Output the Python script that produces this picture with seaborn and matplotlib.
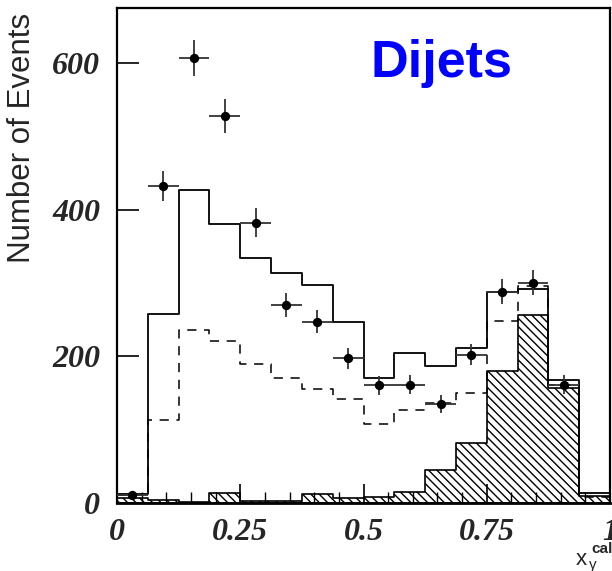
import numpy as np
import pandas as pd
import matplotlib
matplotlib.use("Agg")
import matplotlib.pyplot as plt
import seaborn as sns

# ---- data ----
bin_edges = [0.0, 0.0625, 0.125, 0.1875, 0.25, 0.3125, 0.375, 0.4375, 0.5,
             0.5625, 0.625, 0.6875, 0.75, 0.8125, 0.875, 0.9375, 1.0]
bin_centers = [0.03125, 0.09375, 0.15625, 0.21875, 0.28125, 0.34375, 0.40625,
               0.46875, 0.53125, 0.59375, 0.65625, 0.71875, 0.78125, 0.84375,
               0.90625, 0.96875]
mc_solid = [12, 258, 427, 380, 334, 314, 297, 246, 170, 204, 187, 211, 288, 291, 167, 13]
mc_dashed = [10, 113, 235, 220, 189, 170, 155, 141, 108, 126, 136, 149, 248, 295, 160, 8]
mc_hatched = [6, 4, 1, 13, 2, 3, 12, 7, 8, 15, 45, 82, 180, 256, 156, 9]

data_x = [0.03125, 0.09375, 0.15625, 0.21875, 0.28125, 0.34375, 0.40625,
          0.46875, 0.53125, 0.59375, 0.65625, 0.71875, 0.78125, 0.84375, 0.90625]
data_y = [10, 432, 607, 528, 382, 270, 247, 197, 160, 161, 135, 202, 288, 300, 161]
data_yerr = [3, 21, 25, 23, 20, 16, 16, 14, 13, 13, 12, 14, 17, 17, 13]
data_xerr = [0.03125] * len(data_x)

x_ticks = [0, 0.25, 0.5, 0.75, 1]
x_tick_labels = ["0", "0.25", "0.5", "0.75", "1"]
y_ticks = [0, 200, 400, 600]
y_tick_labels = ["0", "200", "400", "600"]

# ---- figure ----
sns.set_theme(style="white")
plt.rcParams["font.family"] = ["Liberation Sans", "DejaVu Sans"]
plt.rcParams["hatch.linewidth"] = 1.0

W, H = 612, 571
fig = plt.figure(figsize=(W / 100, H / 100), dpi=100)
ax = fig.add_axes([117 / W, 1 - 502.7 / H, (610 - 117) / W, (502.7 - 8) / H])

df = pd.DataFrame({"x": bin_centers, "solid": mc_solid,
                   "dashed": mc_dashed, "hatched": mc_hatched})

sns.histplot(data=df, x="x", weights="hatched", bins=bin_edges, element="step",
             fill=True, color="black", facecolor="none", edgecolor="black",
             hatch="\\\\\\\\", linewidth=1.2, ax=ax)
sns.histplot(data=df, x="x", weights="solid", bins=bin_edges, element="step",
             fill=False, color="black", linewidth=1.3, ax=ax)
sns.histplot(data=df, x="x", weights="dashed", bins=bin_edges, element="step",
             fill=False, color="black", linewidth=1.1, linestyle=(0, (6, 5)), ax=ax)

ax.errorbar(data_x, data_y, xerr=data_xerr, yerr=data_yerr, fmt="none",
            ecolor="#333333", elinewidth=1.3, capsize=0, zorder=4)
sns.scatterplot(x=data_x, y=data_y, color="black", s=45, edgecolor="black",
                linewidth=0, zorder=5, ax=ax)

ax.set_xlim(0, 1)
ax.set_ylim(0, 675)
ax.set_xlabel("")
ax.set_ylabel("")

tick_font = dict(family="Liberation Serif", weight="bold", style="italic", size=23)
ax.set_xticks(x_ticks)
ax.set_xticklabels(x_tick_labels, fontdict=tick_font)
ax.set_yticks(y_ticks)
ax.set_yticklabels(y_tick_labels, fontdict=tick_font)
ax.set_xticks(np.arange(0.05, 1.0, 0.05), minor=True)
ax.tick_params(axis="x", which="major", direction="in", length=14, width=1.2,
               pad=11, color="black", bottom=True, top=False)
ax.tick_params(axis="x", which="minor", direction="in", length=8, width=1.0,
               color="black", bottom=True, top=False)
ax.tick_params(axis="y", which="major", direction="in", length=16, width=1.2,
               pad=12, color="black", left=True, right=False)

for sp in ax.spines.values():
    sp.set_visible(True)
    sp.set_color("black")
    sp.set_linewidth(1.6)
ax.spines["bottom"].set_linewidth(2.0)

# texts
fig.text(441 / W, 1 - 77.5 / H, "Dijets", color="#0000ff", fontsize=37.5,
         fontweight="bold", ha="center", va="baseline", family="Liberation Sans")
fig.text(22 / W, 1 - 138 / H, "Number of Events", rotation=90, fontsize=22.5,
         ha="center", va="center", family="Liberation Sans")
fig.text(576 / W, 1 - 565 / H, "x", fontsize=16, ha="left", va="baseline",
         family="Liberation Sans")
fig.text(591 / W, 1 - 553 / H, "cal", fontsize=11, fontweight="bold",
         ha="left", va="baseline", family="Liberation Sans")
fig.text(589 / W, 1 - 569.5 / H, "γ", fontsize=11, ha="left", va="baseline",
         family="Liberation Sans")

fig.savefig("out.png", dpi=100)
